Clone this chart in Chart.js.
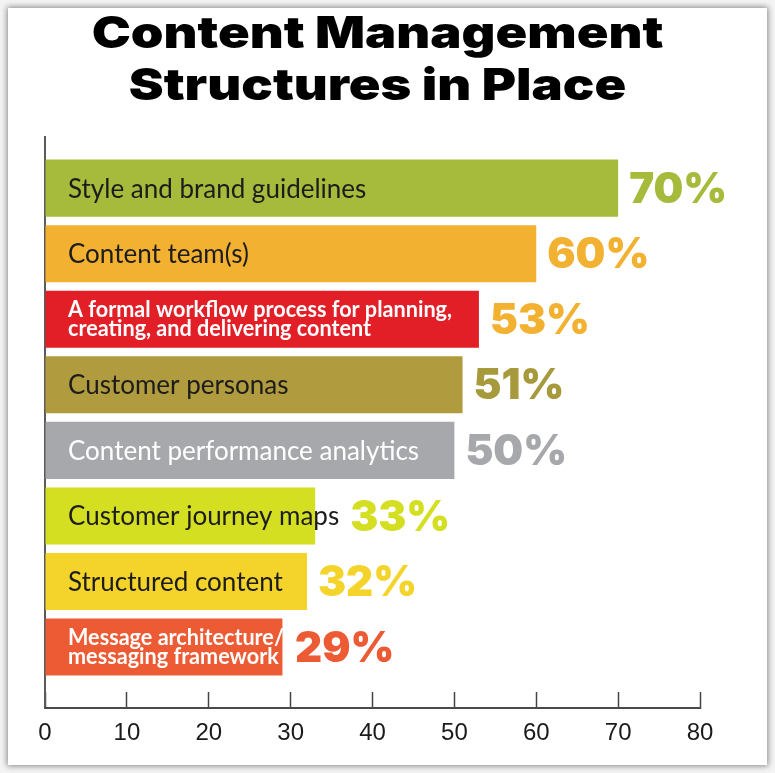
<!DOCTYPE html>
<html>
<head>
<meta charset="utf-8">
<script src="https://cdn.jsdelivr.net/npm/chart.js@4/dist/chart.umd.min.js"></script>
<style>
  html, body { margin: 0; padding: 0; background: #ffffff; }
  #wrap { position: relative; width: 775px; height: 773px; overflow: hidden; background: #f4f4f4; }
  #card { position: absolute; left: 8px; top: 8px; width: 759px; height: 757px; background: #ffffff;
          box-shadow: 0 0 6px 1px rgba(0,0,0,0.45); }
  #c { position: absolute; left: 0; top: 0; }
</style>
</head>
<body>
<div id="wrap">
  <div id="card"></div>
  <canvas id="c" width="775" height="773"></canvas>
</div>
<script>
// ---- data ----
const titleLines = ["Content Management", "Structures in Place"];
const categories = [
  ["Style and brand guidelines"],
  ["Content team(s)"],
  ["A formal workflow process for planning,", "creating, and delivering content"],
  ["Customer personas"],
  ["Content performance analytics"],
  ["Customer journey maps"],
  ["Structured content"],
  ["Message architecture/", "messaging framework"]
];
const values = [70, 60, 53, 51, 50, 33, 32, 29];
const positions = [0, 1, 2, 3, 4, 5, 6, 7];
const xTicks = [0, 10, 20, 30, 40, 50, 60, 70, 80];

// ---- styles ----
const barColors   = ["#a6ba3b", "#f3b131", "#e21f27", "#b09b3e", "#a7a8ab", "#d3df20", "#f4d42a", "#ec5b33"];
const labelColors = ["#1c1c1c", "#1c1c1c", "#ffffff", "#1c1c1c", "#ffffff", "#1c1c1c", "#1c1c1c", "#ffffff"];
const valueColors = ["#a6ba3b", "#f3b131", "#f3b131", "#a69a3c", "#a7a8ab", "#d3df20", "#f4d42a", "#ec5b33"];

const titlePlugin = {
  id: 'bigTitle',
  afterDraw(chart) {
    const ctx = chart.ctx;
    const xs = chart.scales.x;
    const cx = (xs.left + xs.right) / 2 + 5;
    ctx.save();
    ctx.fillStyle = '#000000';
    ctx.font = '900 44px Inter';
    ctx.textAlign = 'center';
    ctx.textBaseline = 'alphabetic';
    titleLines.forEach((t, k) => {
      ctx.save();
      ctx.translate(cx, 48 + k * 52);
      ctx.scale(1.19, 1);
      ctx.fillText(t, 0, 0);
      ctx.restore();
    });
    ctx.restore();
  }
};

const labelPlugin = {
  id: 'barLabels',
  afterDatasetsDraw(chart) {
    const ctx = chart.ctx;
    const meta = chart.getDatasetMeta(0);
    const xs = chart.scales.x;
    ctx.save();
    meta.data.forEach((bar, i) => {
      const lines = categories[i];
      const cy = bar.y;
      const tx = xs.left + 23;
      let textEnd = 0;
      ctx.fillStyle = labelColors[i];
      ctx.textAlign = 'left';
      ctx.textBaseline = 'middle';
      if (lines.length === 1) {
        ctx.font = '400 26px Lato';
        ctx.fillText(lines[0], tx, cy + 1);
        textEnd = tx + ctx.measureText(lines[0]).width;
      } else {
        ctx.font = '700 23px Lato';
        const lh = 19;
        const sx = 0.94;
        lines.forEach((ln, k) => {
          const yy = cy + (k - (lines.length - 1) / 2) * lh;
          ctx.save();
          ctx.translate(tx, yy);
          ctx.scale(sx, 1);
          ctx.fillText(ln, 0, 0);
          ctx.restore();
          textEnd = Math.max(textEnd, tx + ctx.measureText(ln).width * sx);
        });
      }
      const barEnd = bar.x;
      const vx = Math.max(barEnd, textEnd) + 11;
      ctx.font = '900 42px Inter';
      ctx.fillStyle = valueColors[i];
      ctx.fillText(values[i] + '%', vx, cy + 2);
    });
    ctx.restore();
  }
};

new Chart(document.getElementById('c'), {
  type: 'bar',
  data: {
    labels: positions,
    datasets: [{
      data: values.map((v, i) => ({ x: v, y: positions[i] })),
      backgroundColor: barColors,
      borderWidth: 0,
      barPercentage: 0.87,
      categoryPercentage: 1.0
    }]
  },
  options: {
    indexAxis: 'y',
    responsive: false,
    animation: false,
    devicePixelRatio: 1,
    layout: { padding: { left: 0, right: 75, top: 137, bottom: 0 } },
    plugins: {
      legend: { display: false },
      tooltip: { enabled: false },
      title: { display: false }
    },
    scales: {
      y: {
        type: 'linear',
        reverse: true,
        offset: false,
        min: -0.78,
        max: 7.93,
        ticks: { display: false },
        grid: { display: false, offset: false },
        border: { display: true, color: '#5a5a5a', width: 2 },
        afterBuildTicks(s) { s.ticks = positions.map(v => ({ value: v })); },
        afterFit(s) { s.width = 45; }
      },
      x: {
        type: 'linear',
        min: xTicks[0],
        max: xTicks[xTicks.length - 1],
        ticks: {
          stepSize: xTicks[1] - xTicks[0],
          color: '#1a1a1a',
          font: { family: '"Liberation Sans"', size: 24 },
          padding: 27
        },
        grid: { display: true, drawOnChartArea: false, drawTicks: true, tickLength: -16, tickColor: '#444444', tickWidth: 1.5 },
        border: { display: true, color: '#4a4a4a', width: 2 },
        afterFit(s) { s.height = 65; }
      }
    }
  },
  plugins: [labelPlugin, titlePlugin]
});
</script>
</body>
</html>
